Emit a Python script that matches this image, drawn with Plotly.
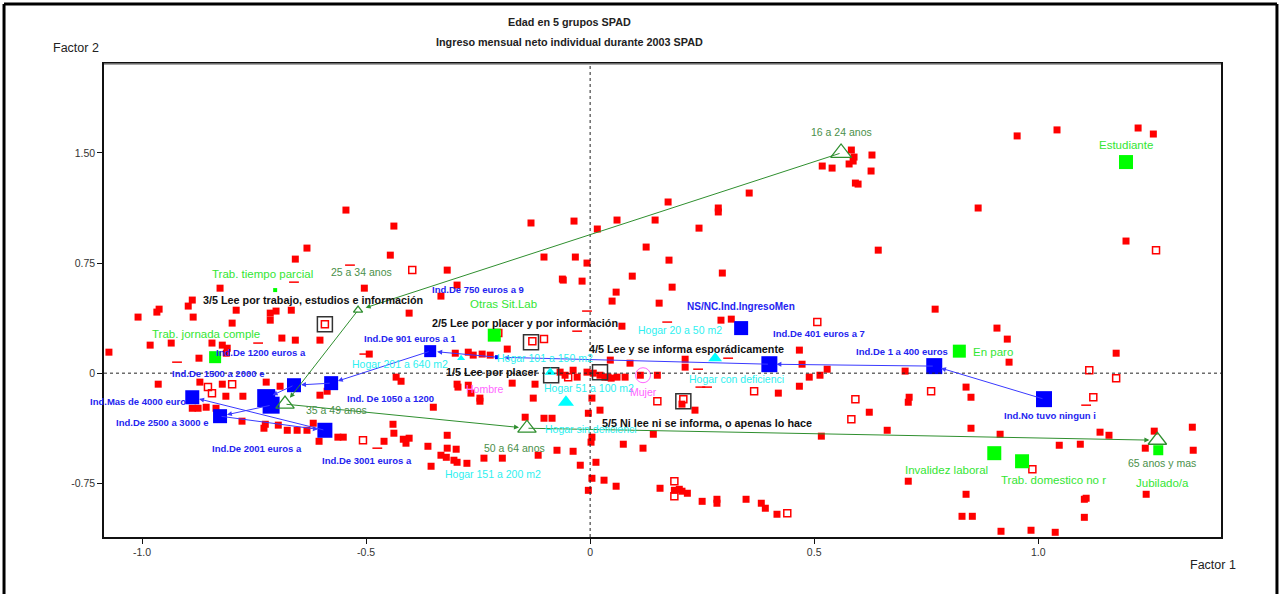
import plotly.graph_objects as go

# supplementary individuals (filled red squares)
red_x = [-0.545, -0.438, -0.632, -0.658, -0.446, -0.132, -0.036, 0.016, -0.103, -0.033,
         -0.007, -0.319, -0.062, -0.018, -0.826, -0.504, -0.297, -0.333, -0.888,
         1.042, 0.953, 1.223, 1.257, 0.583, 0.629, 0.587, 0.589, 0.518, 0.540,
         0.578, 0.627, 0.592, 0.598, 0.355, 0.286, 0.286, 0.174, 0.060, 0.145,
         0.243, 0.866, 0.643, 0.125, 0.176, 0.094, 0.295, 0.183, 0.058, 0.049,
         0.154, 1.196, 0.770, 0.908, 0.071, 0.292, 0.315, 0.931, 0.935, 1.174,
         0.703, 0.839, 0.850, 0.712, 0.710, 0.663, 0.850, 0.915, 1.138, 1.158,
         1.047, 1.094, 1.239, 1.259, 1.344, 1.346, 0.710, 0.839, 1.107, 1.241,
         0.830, 0.853, 0.917, 0.984, 1.038, 1.103, 1.103,
         0.156, 0.199, 0.205, 0.217, 0.188, 0.250, 0.283, 0.283, 0.348, 0.382,
         0.391, 0.417, 0.031, 0.058,
         0.467, 0.212, 0.089, 0.473, 0.212, 0.150, 0.529, 0.489, 0.513, 0.467,
         0.420, 0.234, 0.623, 0.141, 0.516, 0.074, 0.118, 0.205,
         -0.060, -0.404, -0.185, -0.272, -0.261, -0.241, -0.223, -0.301, 0.045, 0.078,
         0.060, 0.040, -0.067, -0.056, -0.038, -0.029, -0.007, 0.007, 0.022, 0.033,
         0.047, 0.112, -0.297, -0.272, -0.295, -0.174, -0.123, -0.127, -0.246, 0.004,
         0.022, -0.145, -0.103, -0.085, -0.004, -0.319, -0.404, 0.004, 0.002, -0.266,
         -0.246,
         -0.897, -0.962, -0.967, -1.009, -0.886, -0.714, -0.701, -0.714, -0.667, -0.790,
         -0.799, -0.603, -0.688, -0.658, -0.935, -0.982, -0.844, -0.821, -0.810, -0.812,
         -0.873, -1.074, -0.493, -0.433, -0.422, -0.692, -0.723, -0.871, -0.964, -0.821,
         -0.813, -0.775, -0.603, -0.587,
         -0.888, -0.875, -0.857, -0.835, -0.777, -0.725, -0.728, -0.696, -0.676, -0.654,
         -0.632, -0.618, -0.605, -0.563, -0.551, -0.460, -0.440, -0.438, -0.417, -0.411,
         -0.362, -0.319, -0.299, -0.333, -0.321, -0.304, -0.355, -0.297, -0.350,
         -0.275, -0.237, -0.196, -0.116, -0.074, -0.038, -0.022, 0.013, 0.004, -0.004]
red_y = [1.111, 1.002, 0.852, 0.777, 0.804, 1.023, 1.036, 0.982, 0.791, 0.791,
         0.750, 0.702, 0.641, 0.627, 0.579, 0.579, 0.600, 0.525, 0.498,
         1.657, 1.616, 1.670, 1.629, 1.520, 1.486, 1.445, 1.472, 1.411, 1.397,
         1.425, 1.377, 1.295, 1.288, 1.227, 1.125, 1.098, 1.166, 1.043, 1.043,
         0.988, 1.125, 0.838, 0.859, 0.770, 0.661, 0.682, 0.586, 0.552, 0.491,
         0.477, 0.900, 0.436, 0.307, 0.320, 0.361, 0.368, 0.232, 0.075, 0.136,
         0.014, -0.095, -0.164, -0.164, -0.198, -0.389, -0.375, -0.416, -0.402, -0.423,
         -0.491, -0.484, -0.511, -0.395, -0.368, -0.525, -0.736, -0.825, -0.852, -0.825,
         -0.975, -0.975, -1.077, -1.070, -1.084, -0.982, -0.859,
         -0.784, -0.791, -0.804, -0.818, -0.798, -0.873, -0.859, -0.886, -0.859, -0.886,
         -0.920, -0.961, -0.729, -0.770,
         0.157, 0.095, 0.068, 0.061, 0.041, -0.014, 0.027, -0.027, -0.014, -0.089,
         -0.136, -0.252, -0.266, -0.416, -0.429, -0.484, -0.511, -0.211,
         0.634, 0.409, 0.164, 0.143, 0.123, 0.130, 0.123, 0.136, 0.089, -0.027,
         -0.027, -0.027, 0.007, -0.014, 0.020, -0.027, 0.007, 0.000, -0.014, -0.027,
         -0.034, -0.014, -0.075, -0.082, -0.095, -0.068, -0.075, -0.170, -0.170, -0.170,
         -0.252, -0.300, -0.307, -0.307, -0.273, -0.423, -0.443, -0.436, -0.470, -0.136,
         -0.191,
         0.457, 0.436, 0.416, 0.382, 0.382, 0.409, 0.423, 0.361, 0.429, 0.429,
         0.341, 0.225, 0.239, 0.225, 0.205, 0.191, 0.205, 0.191, 0.170, 0.136,
         0.102, 0.143, 0.130, -0.027, -0.055, -0.089, -0.061, -0.061, -0.075, -0.075,
         -0.157, -0.157, -0.150, -0.123,
         -0.239, -0.239, -0.232, -0.239, -0.327, -0.348, -0.375, -0.354, -0.389, -0.389,
         -0.389, -0.341, -0.464, -0.436, -0.436, -0.464, -0.348, -0.409, -0.450, -0.477,
         -0.498, -0.511, -0.518, -0.559, -0.573, -0.593, -0.634, -0.607, -0.232,
         -0.614, -0.579, -0.579, -0.559, -0.525, -0.532, -0.627, -0.607, -0.716, -0.798]

# individuals drawn as open squares
open_x = [-0.397, -0.103, -0.129, -0.049, -0.853, -0.844, -0.799, -0.507, 0.150, 0.366,
          0.507, 0.592, 0.583, 0.761, 1.114, 1.174, 1.123, 0.987, 0.188, 0.188,
          0.440, 1.263, -0.592, 0.208, -0.205]
open_y = [0.702, 0.232, 0.218, -0.027, -0.095, -0.136, -0.075, -0.457, -0.191, -0.123,
          0.348, -0.177, -0.314, -0.123, 0.020, -0.034, -0.164, -0.654, -0.736, -0.839,
          -0.954, 0.838, 0.334, -0.177, 0.273]

# individuals with tiny weight (drawn as short dashes)
dash_x = [-0.536, -0.661, -0.741, -0.922, -0.504, -0.007, -0.029, 0.172, 0.308, 0.241,
          0.246, 0.261, 1.107, -0.475]
dash_y = [0.736, 0.620, 0.205, 0.075, 0.130, 0.423, 0.286, 0.348, 0.102, 0.027,
          -0.095, -0.095, -0.218, -0.511]

# Ingreso mensual neto individual (ordered trajectory)
ingreso_cat = ["Ind.No tuvo ningun i", "Ind.De 1 a 400 euros", "Ind.De 401 euros a 7",
               "Ind.De 750 euros a 9", "Ind.De 901 euros a 1", "Ind. De 1050 a 1200",
               "Ind.De 1200 euros a", "Ind.De 1500 a 2000 e", "Ind.De 2001 euros a",
               "Ind.De 2500 a 3000 e", "Ind.De 3001 euros a", "Ind.Mas de 4000 euro"]
ingreso_x = [1.013, 0.768, 0.400, -0.208, -0.357, -0.578, -0.661, -0.723, -0.712, -0.826, -0.592, -0.888]
ingreso_y = [-0.177, 0.048, 0.061, 0.109, 0.150, -0.068, -0.082, -0.170, -0.218, -0.293, -0.389, -0.164]
nsnc_cat = ["NS/NC.Ind.IngresoMen"]
nsnc_x = [0.337]
nsnc_y = [0.307]

# Edad en 5 grupos (ordered trajectory)
edad_cat = ["16 a 24 anos", "25 a 34 anos", "35 a 49 anos", "50 a 64 anos", "65 anos y mas"]
edad_x = [0.560, -0.518, -0.681, -0.141, 1.266]
edad_y = [1.500, 0.429, -0.211, -0.375, -0.457]

# Situacion laboral
sitlab_cat = ["Estudiante", "En paro", "Invalidez laboral", "Trab. domestico no r", "Jubilado/a",
              "Trab. tiempo parcial", "Trab. jornada comple", "Otras Sit.Lab"]
sitlab_x = [1.196, 0.824, 0.902, 0.964, 1.268, -0.703, -0.837, -0.214]
sitlab_y = [1.438, 0.150, -0.545, -0.600, -0.525, 0.566, 0.109, 0.259]

# Hogar
hogar_cat = ["Hogar 20 a 50 m2", "Hogar con deficienci", "Hogar 101 a 150 m2", "Hogar sin deficienci",
             "Hogar 201 a 640 m2", "Hogar 51 a 100 m2", "Hogar 151 a 200 m2"]
hogar_x = [0.279, 0.279, -0.089, 0.002, -0.288, -0.054, -0.217]
hogar_y = [0.102, 0.075, 0.007, -0.382, 0.102, -0.198, -0.607]

# Sexo
sexo_cat = ["Hombre", "Mujer"]
sexo_x = [-0.223, 0.118]
sexo_y = [-0.034, -0.014]

# Lectura (active)
lee_cat = ["1/5 Lee por placer", "2/5 Lee por placer y por información",
           "3/5 Lee por trabajo, estudios e información", "4/5 Lee y se informa esporádicamente",
           "5/5 Ni lee ni se informa, o apenas lo hace"]
lee_x = [-0.087, -0.132, -0.592, 0.022, 0.208]
lee_y = [-0.014, 0.211, 0.334, 0.007, -0.191]

# --- styles ---
SANS = "Liberation Sans, Arial"
RED = "#ff0000"
BLUE = "#0000ff"
BLUE_TXT = "#2424f0"
GREEN = "#00ff00"
GREEN_TXT = "#33e633"
AGE = "#2f8f2f"
AGE_TXT = "#4a8f4a"
CYAN = "#00ffff"
CYAN_TXT = "#2ef0f0"
PINK = "#ff66ff"

ingreso_size = [16, 16, 16, 4, 12, 14, 14, 18, 17, 14, 15, 14]
edad_size = [18, 8, 16, 16, 16]
sitlab_size = [14, 13, 14, 14, 10, 4, 12, 13]
hogar_size = [12, 0, 10, 0, 7, 14, 0]

# label offsets in pixels (dx right, dy up) from each point
ingreso_off = [(6, -16), (-32, 15), (50, 31), (-19, 68), (-20, 13), (59, -15), (-33, 33),
               (-48, 25), (-14, -43), (-58, -6), (42, -30), (-54, -4)]
edad_off = [(0, 21), (3, 38), (51, -6), (-12, -20), (5, -23)]
sitlab_off = [(0, 17), (34, -1), (-48, -17), (31, -19), (4, -33), (-13, 16), (-9, 23), (9, 31)]
hogar_off = [(-35, 28), (21, -17), (-5, 14), (0, 0), (-61, -6), (23, 14), (0, -12)]
sexo_off = [(-5, -11), (0, -17)]
lee_off = [(-59, 3), (-6, 19), (-12, 24), (86, 23), (24, -22)]

fig = go.Figure()

fig.add_trace(go.Scatter(x=red_x, y=red_y, mode="markers", hoverinfo="skip",
                         marker=dict(symbol="square", size=7, color=RED, opacity=1, line=dict(width=0))))
fig.add_trace(go.Scatter(x=open_x, y=open_y, mode="markers", hoverinfo="skip",
                         marker=dict(symbol="square-open", size=7, color=RED, opacity=1, line=dict(width=1.5))))
fig.add_trace(go.Scatter(x=dash_x, y=dash_y, mode="markers", hoverinfo="skip",
                         marker=dict(symbol="line-ew", size=7, opacity=1, line=dict(width=1.5, color=RED))))

fig.add_trace(go.Scatter(x=lee_x, y=lee_y, mode="markers", hoverinfo="skip",
                         marker=dict(symbol="square-open", size=15, color="#333333", opacity=1,
                                     line=dict(width=1.5))))
fig.add_trace(go.Scatter(x=hogar_x, y=hogar_y, mode="markers", hoverinfo="skip",
                         marker=dict(symbol="triangle-up", size=hogar_size, color=CYAN, opacity=1,
                                     line=dict(width=0))))
fig.add_trace(go.Scatter(x=sexo_x[1:], y=sexo_y[1:], mode="markers", hoverinfo="skip",
                         marker=dict(symbol="circle-open", size=15, color=PINK, opacity=1, line=dict(width=1))))
fig.add_trace(go.Scatter(x=sitlab_x, y=sitlab_y, mode="markers", hoverinfo="skip",
                         marker=dict(symbol="square", size=sitlab_size, color=GREEN, opacity=1,
                                     line=dict(width=0))))
fig.add_trace(go.Scatter(x=ingreso_x + nsnc_x, y=ingreso_y + nsnc_y, mode="markers", hoverinfo="skip",
                         marker=dict(symbol="square", size=ingreso_size + [14], color=BLUE, opacity=1,
                                     line=dict(width=0))))
fig.add_trace(go.Scatter(x=edad_x, y=edad_y, mode="markers", hoverinfo="skip",
                         marker=dict(symbol="triangle-up-open", size=edad_size, color=AGE, opacity=1,
                                     line=dict(width=1.3))))

annotations = []


def trajectory(xs, ys, color, standoff):
    for i in range(len(xs) - 1):
        annotations.append(dict(
            x=xs[i + 1], y=ys[i + 1], ax=xs[i], ay=ys[i], xref="x", yref="y", axref="x", ayref="y",
            text="", showarrow=True, arrowhead=2, arrowsize=1, arrowwidth=1, arrowcolor=color,
            standoff=standoff,
        ))


def labels(names, xs, ys, offsets, color, size, bold=False):
    for name, x, y, (dx, dy) in zip(names, xs, ys, offsets):
        annotations.append(dict(
            x=x, y=y, xref="x", yref="y", xshift=dx, yshift=dy, showarrow=False,
            xanchor="center", yanchor="middle",
            text="<b>%s</b>" % name if bold else name,
            font=dict(family=SANS, size=size, color=color),
        ))


trajectory(ingreso_x, ingreso_y, "#3a3aff", 7)
trajectory(edad_x, edad_y, AGE, 8)

labels(ingreso_cat, ingreso_x, ingreso_y, ingreso_off, BLUE_TXT, 9.5, bold=True)
labels(nsnc_cat, nsnc_x, nsnc_y, [(0, 22)], BLUE_TXT, 10, bold=True)
labels(edad_cat, edad_x, edad_y, edad_off, AGE_TXT, 10.5)
labels(sitlab_cat, sitlab_x, sitlab_y, sitlab_off, GREEN_TXT, 11.5)
labels(hogar_cat, hogar_x, hogar_y, hogar_off, CYAN_TXT, 10.5)
labels(sexo_cat, sexo_x, sexo_y, sexo_off, PINK, 10.5)
labels(lee_cat, lee_x, lee_y, lee_off, "#111111", 10.8, bold=True)


def paper_text(text, x, y, size, bold=False):
    annotations.append(dict(
        x=x, y=y, xref="paper", yref="paper", showarrow=False, xanchor="center", yanchor="middle",
        text="<b>%s</b>" % text if bold else text, font=dict(family=SANS, size=size, color="#222"),
    ))


paper_text("Edad en 5 grupos SPAD", 0.417, 1.089, 10.8, bold=True)
paper_text("Ingreso mensual neto individual durante 2003 SPAD", 0.417, 1.0465, 10.8, bold=True)
paper_text("Factor 2", -0.025, 1.034, 12.5)
paper_text("Factor 1", 0.993, -0.059, 12.5)

shapes = [
    dict(type="line", xref="x", yref="paper", x0=0, x1=0, y0=0, y1=1,
         line=dict(color="#222", width=1, dash="3px,3px")),
    dict(type="line", xref="paper", yref="y", x0=0, x1=1, y0=0, y1=0,
         line=dict(color="#222", width=1, dash="3px,3px")),
    # top border of the plot box is lighter
    dict(type="line", xref="paper", yref="paper", x0=0, x1=1, y0=1, y1=1,
         line=dict(color="#8a8a8a", width=1.5)),
    # outer frame
    dict(type="line", xref="paper", yref="paper", x0=-0.0895, x1=1.0501, y0=1.1268, y1=1.1268,
         line=dict(color="black", width=3)),
    dict(type="line", xref="paper", yref="paper", x0=-0.0895, x1=-0.0895, y0=-0.14, y1=1.1268,
         line=dict(color="black", width=3)),
    dict(type="line", xref="paper", yref="paper", x0=1.0501, x1=1.0501, y0=-0.14, y1=1.1268,
         line=dict(color="black", width=3)),
]

fig.update_layout(
    width=1282, height=594,
    margin=dict(l=104, r=61, t=64, b=57),
    paper_bgcolor="white", plot_bgcolor="white",
    showlegend=False,
    annotations=annotations,
    shapes=shapes,
    xaxis=dict(range=[-1.085, 1.408], showgrid=False, zeroline=False,
               showline=True, linecolor="#111", linewidth=1.5, mirror=True,
               ticks="outside", ticklen=5, tickcolor="#111",
               tickvals=[-1, -0.5, 0, 0.5, 1], ticktext=["-1.0", "-0.5", "0", "0.5", "1.0"],
               tickfont=dict(family=SANS, size=10.5, color="#333")),
    yaxis=dict(range=[-1.116, 2.106], showgrid=False, zeroline=False,
               showline=True, linecolor="#111", linewidth=1.5, mirror=True,
               ticks="outside", ticklen=5, tickcolor="#111",
               tickvals=[-0.75, 0, 0.75, 1.5], ticktext=["-0.75", "0", "0.75", "1.50"],
               tickfont=dict(family=SANS, size=10.5, color="#333")),
)

# drop the page's default body margin so the figure fills the window exactly
fig.write_html("out.html", config={"displayModeBar": False},
               post_script="document.body.style.margin = '0px';")
